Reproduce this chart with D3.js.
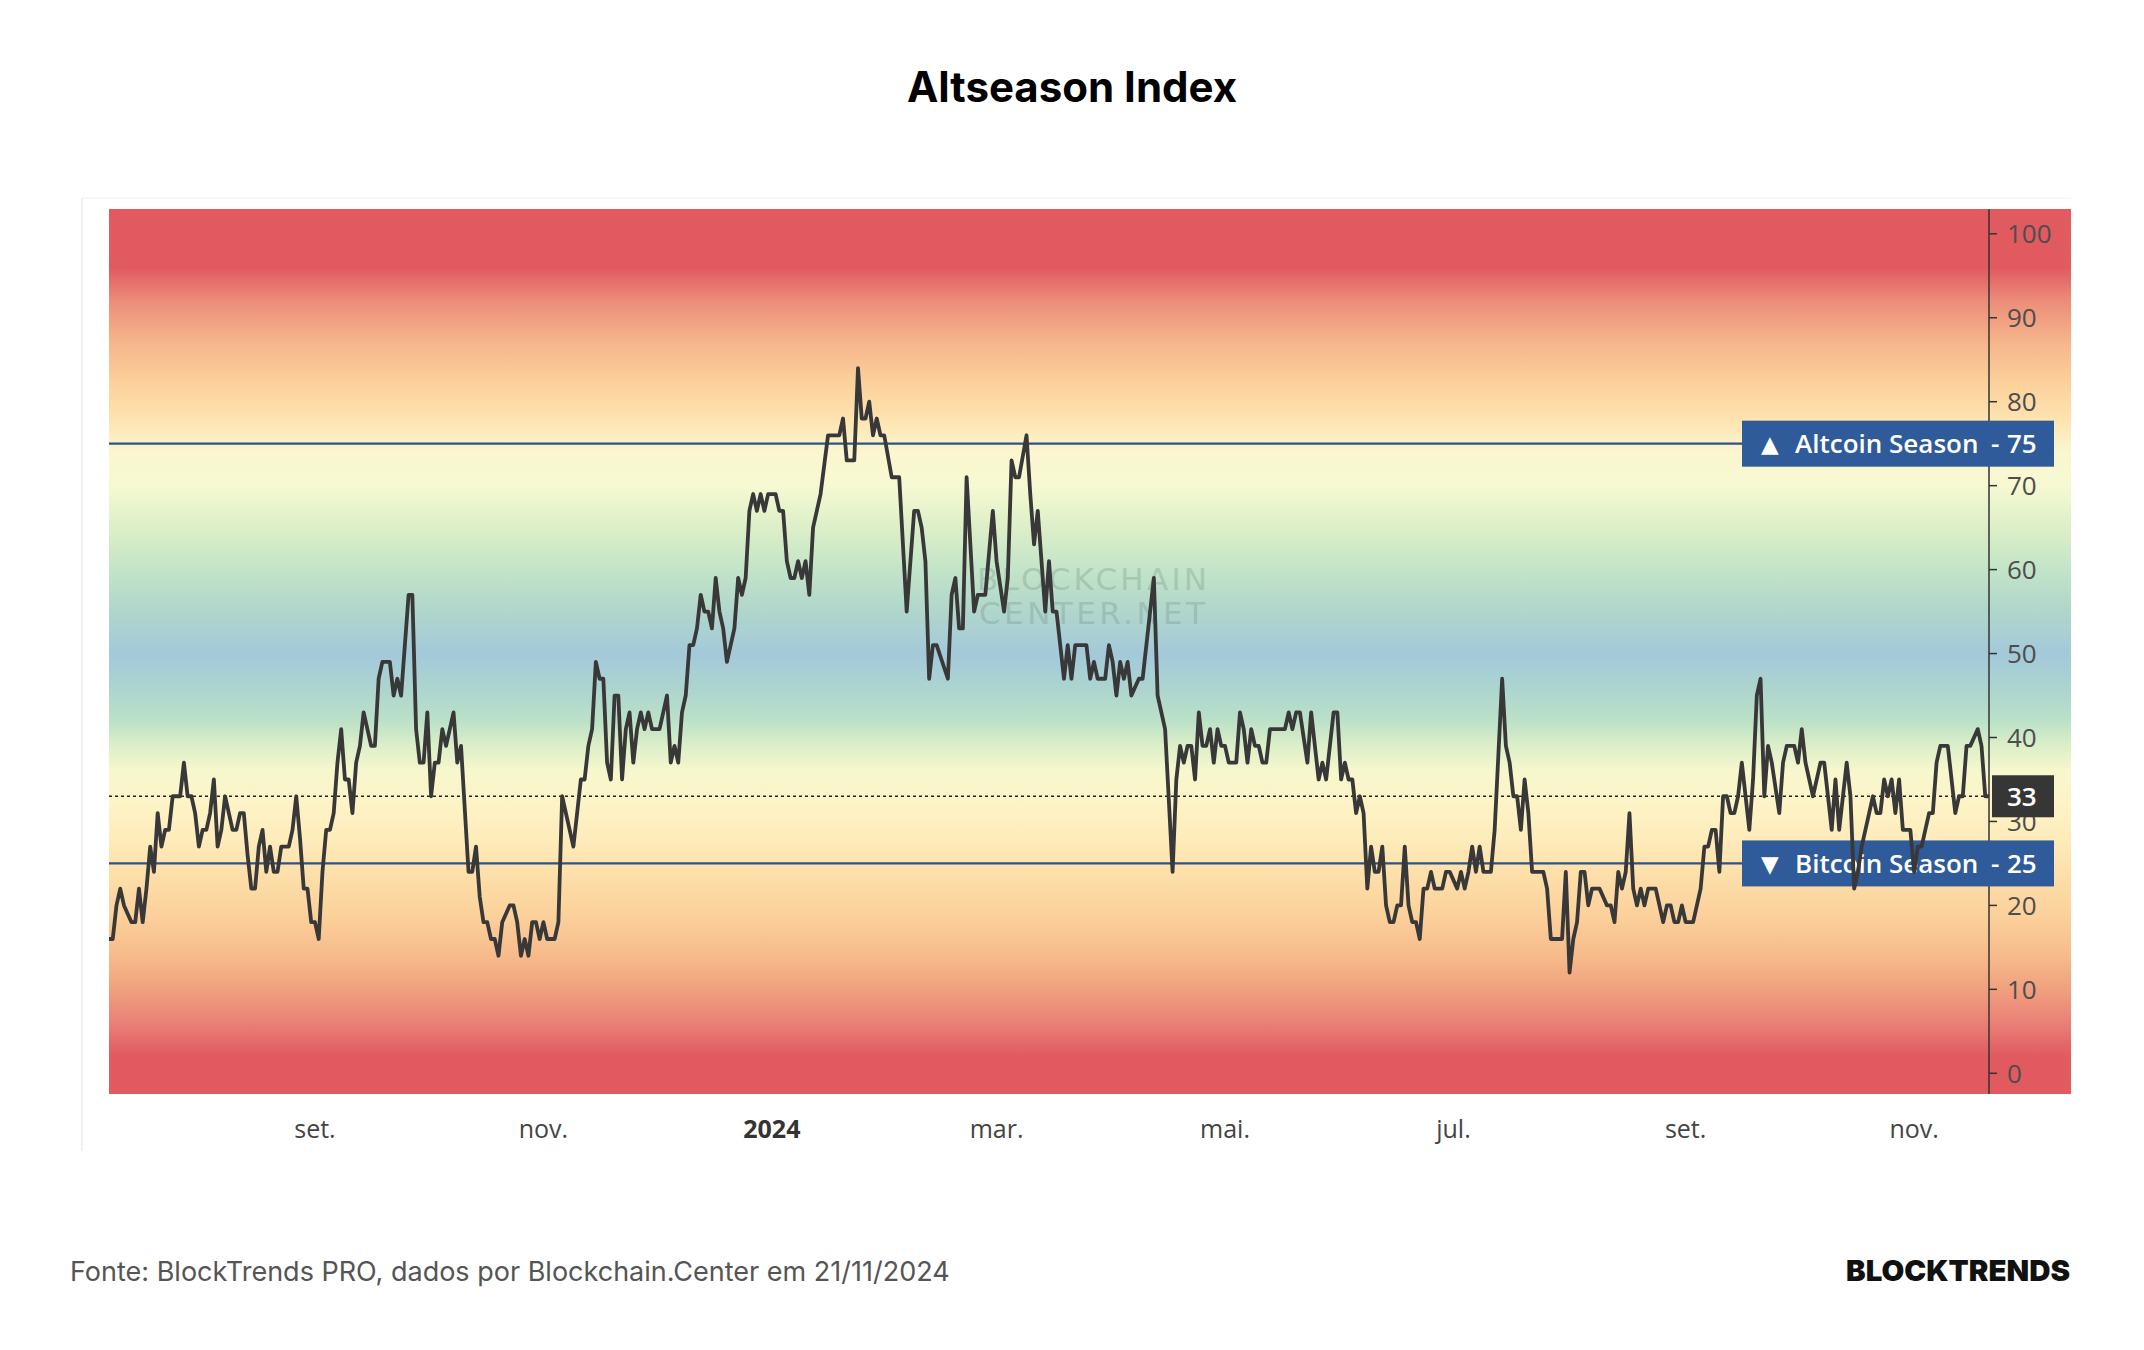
<!doctype html>
<html>
<head>
<meta charset="utf-8"/>
<title>Altseason Index</title>
<script src="https://d3js.org/d3.v7.min.js"></script>
<style>
  body { margin: 0; background: #fff; }
</style>
</head>
<body>
<div id="chart"></div>
<script>
// dados: dias desde o inicio da serie e valor do indice
var startDate = new Date(2023, 6, 8);
var totalDays = 502;

var days = [
  0,1,2,3,4,6,7,8,9,10,11,12,13,14,15,16,17,19,20,21,22,23,24,25,26,27,28,29,30,31,32,33,34,35,36,37,38,39,40,41,
  42,43,44,45,46,48,49,50,51,52,53,54,55,56,57,58,59,60,61,62,63,64,65,66,67,68,70,71,72,73,75,76,77,78,80,81,82,83,84,85,
  86,87,88,89,90,91,92,93,94,96,97,98,99,100,101,102,103,104,105,107,108,109,110,111,112,113,114,115,116,117,119,120,121,123,124,
  126,127,128,129,130,131,132,133,134,135,136,137,138,139,140,141,142,143,144,145,147,148,149,150,151,152,153,154,155,156,
  157,158,159,160,161,162,163,164,165,167,168,169,170,171,172,173,174,175,176,178,179,180,181,182,183,184,185,186,187,188,
  189,190,192,195,196,197,199,200,201,202,203,204,205,206,207,209,211,213,215,216,217,218,219,220,221,224,225,226,227,228,
  229,231,232,234,236,237,239,240,241,242,243,245,246,247,248,250,
  251,252,253,255,256,257,258,261,262,263,264,266,267,268,269,270,271,272,273,275,276,279,280,282,284,285,286,287,288,289,
  290,291,292,293,294,295,296,297,298,299,301,302,303,304,305,306,307,308,309,310,314,315,316,317,318,320,321,322,323,324,
  325,327,328,329,330,331,332,333,334,335,336,337,338,339,340,341,342,343,344,345,346,347,348,349,350,351,352,353,354,356,
  357,358,360,361,362,363,364,365,366,367,369,370,372,373,374,375,376,
  377,378,379,380,383,384,385,388,389,390,391,392,393,394,395,396,398,400,401,402,403,404,405,406,407,408,409,410,411,413,
  415,416,417,418,419,420,421,423,425,426,427,428,429,430,431,432,433,434,435,436,437,438,439,440,441,442,443,444,446,447,
  448,450,451,452,453,454,455,457,458,459,460,461,462,464,465,466,467,468,470,471,472,473,474,475,476,477,478,479,481,482,
  483,484,485,486,487,488,489,491,492,493,494,495,496,497,499,500,501,502
];

var values = [
  16,16,20,22,20,18,18,22,18,22,27,24,31,27,29,29,33,33,37,33,33,31,27,29,29,31,35,27,29,33,31,29,29,31,31,26,22,22,27,29,
  24,27,24,24,27,27,29,33,28,22,22,18,18,16,24,29,29,31,37,41,35,35,31,37,39,43,39,39,47,49,49,45,47,45,57,57,41,37,37,43,
  33,37,37,41,39,41,43,37,39,24,24,27,21,18,18,16,16,14,18,20,20,18,14,16,14,18,18,16,18,16,16,18,33,29,27,
  35,35,39,41,49,47,47,37,35,45,45,35,41,43,37,41,43,41,43,41,41,43,45,37,39,37,43,45,51,51,
  53,57,55,55,53,59,55,53,49,53,59,57,59,67,69,67,69,67,69,69,67,67,61,59,59,61,59,61,57,65,
  67,69,76,76,78,73,73,84,78,78,80,76,78,76,76,71,71,55,67,67,65,61,47,51,51,47,57,59,53,53,
  71,55,57,57,67,61,55,59,73,71,71,76,69,63,67,55,
  61,55,55,47,51,47,51,51,47,49,47,47,51,49,45,49,47,49,45,47,47,59,45,41,24,35,39,37,39,39,
  35,43,39,39,41,37,41,39,39,37,37,43,41,37,41,39,39,37,37,41,41,43,41,43,43,37,43,39,35,37,
  35,43,43,35,37,35,35,31,33,31,22,27,24,24,27,20,18,18,20,20,27,20,18,18,16,22,22,24,22,22,
  24,24,22,24,22,24,27,24,27,24,24,29,47,39,37,33,33,
  29,35,31,24,24,22,16,16,24,12,16,18,24,24,20,22,22,20,20,18,24,22,24,31,22,20,22,20,22,22,
  18,20,20,18,18,20,18,18,22,27,27,29,29,24,33,33,31,31,33,37,33,29,35,45,47,33,39,37,31,37,
  39,39,37,41,37,35,33,37,37,33,29,35,29,37,33,22,24,27,31,33,31,31,35,33,35,31,35,29,29,24,
  27,27,29,31,31,37,39,39,35,31,33,33,39,39,41,39,33,33
];

var yTicks = [0, 10, 20, 30, 40, 50, 60, 70, 80, 90, 100];
var mesesPt = ["jan.", "fev.", "mar.", "abr.", "mai.", "jun.", "jul.", "ago.", "set.", "out.", "nov.", "dez."];

var altLevel = 75, btcLevel = 25;
var altLabel = "Altcoin Season", btcLabel = "Bitcoin Season";
var currentValue = values[values.length - 1];

// faixas de cor do fundo (valor do indice -> cor)
var gradValues = [103, 96, 92, 87, 82, 78, 74, 70, 65, 60, 55, 50, 46, 42, 39, 36, 32, 28, 24, 19, 14, 10, 6, 2, -3];
var gradColors = ["#e05a60", "#e05a60", "#ec8d7a", "#f6b68b", "#fcd29c", "#fde3b0", "#fbf6cf", "#f6f9d2", "#dcefc8",
                  "#c3e4c8", "#b0d6cc", "#a3c9da", "#acd4cf", "#bbe1c8", "#dcefc8", "#f7f7cd", "#fdf3c6", "#feecbb",
                  "#fde0ab", "#fcd19b", "#f7bb8b", "#f0a07f", "#ea8077", "#e05a60", "#e05a60"];

var W = 2144, H = 1350;
var plotLeft = 109, plotRight = 2071, axisX = 1989, plotTop = 209, plotBottom = 1094;

var svg = d3.select("#chart")
    .append("svg")
    .attr("width", W)
    .attr("height", H);

svg.append("rect").attr("width", W).attr("height", H).attr("fill", "#fff");

var endDate = d3.timeDay.offset(startDate, totalDays);
var x = d3.scaleTime().domain([startDate, endDate]).range([plotLeft, axisX]);
var y = d3.scaleLinear().domain([0, 100]).range([1073.3, 233.8]);

var data = days.map(function(d, i) {
    return { date: d3.timeDay.offset(startDate, d), v: values[i] };
});

// moldura suave
svg.append("line")
    .attr("x1", 82).attr("x2", 82).attr("y1", 198).attr("y2", 1151)
    .attr("stroke", "#ededed").attr("stroke-width", 1.5);
svg.append("line")
    .attr("x1", 82).attr("x2", plotRight).attr("y1", 198).attr("y2", 198)
    .attr("stroke", "#f6f6f6").attr("stroke-width", 1.5);

// gradiente
var defs = svg.append("defs");
var grad = defs.append("linearGradient")
    .attr("id", "fundo")
    .attr("gradientUnits", "userSpaceOnUse")
    .attr("x1", 0).attr("x2", 0)
    .attr("y1", plotTop).attr("y2", plotBottom);

gradValues.forEach(function(v, i) {
    var off = (y(v) - plotTop) / (plotBottom - plotTop);
    off = Math.max(0, Math.min(1, off));
    grad.append("stop").attr("offset", off).attr("stop-color", gradColors[i]);
});

svg.append("rect")
    .attr("x", plotLeft).attr("y", plotTop)
    .attr("width", plotRight - plotLeft).attr("height", plotBottom - plotTop)
    .attr("fill", "url(#fundo)");

// marca d'agua
var wm = svg.append("g").attr("fill", "#5f7f72").attr("opacity", 0.25)
    .attr("font-family", "DejaVu Sans, sans-serif").attr("font-size", 31)
    .attr("text-anchor", "middle");
wm.append("text").attr("x", 1092).attr("y", 590).attr("textLength", 230).text("BLOCKCHAIN");
wm.append("text").attr("x", 1092).attr("y", 624).attr("textLength", 226).text("CENTER.NET");

// linhas de referencia
svg.append("line")
    .attr("x1", plotLeft).attr("x2", 1742)
    .attr("y1", y(altLevel)).attr("y2", y(altLevel))
    .attr("stroke", "#2d5287").attr("stroke-width", 2.2);
svg.append("line")
    .attr("x1", plotLeft).attr("x2", 1742)
    .attr("y1", y(btcLevel)).attr("y2", y(btcLevel))
    .attr("stroke", "#2d5287").attr("stroke-width", 2.2);
svg.append("line")
    .attr("x1", plotLeft).attr("x2", axisX)
    .attr("y1", y(currentValue)).attr("y2", y(currentValue))
    .attr("stroke", "#222").attr("stroke-width", 1.3)
    .attr("stroke-dasharray", "3,3");

// eixo y
svg.append("line")
    .attr("x1", axisX).attr("x2", axisX).attr("y1", plotTop).attr("y2", plotBottom)
    .attr("stroke", "#333").attr("stroke-width", 1.5);

var yAxis = svg.append("g");
yTicks.forEach(function(t) {
    yAxis.append("line")
        .attr("x1", axisX).attr("x2", axisX + 8)
        .attr("y1", y(t)).attr("y2", y(t))
        .attr("stroke", "#333").attr("stroke-width", 1.5);
    yAxis.append("text")
        .attr("x", 2007).attr("y", y(t)).attr("dy", "0.36em")
        .attr("font-family", "Open Sans, sans-serif").attr("font-size", 26)
        .attr("font-weight", 500)
        .attr("fill", "#4d4d4d")
        .text(t);
});

// eixo x
var xTicks = x.ticks(d3.timeMonth.every(2));
xTicks.forEach(function(t) {
    var isYear = t.getMonth() === 0;
    svg.append("text")
        .attr("x", x(t)).attr("y", 1138)
        .attr("text-anchor", "middle")
        .attr("font-family", "Open Sans, sans-serif").attr("font-size", 25)
        .attr("font-weight", isYear ? 700 : 400)
        .attr("fill", isYear ? "#333" : "#444")
        .text(isYear ? t.getFullYear() : mesesPt[t.getMonth()]);
});

// caixas de rotulo
function caixa(level, arrow, label) {
    var g = svg.append("g");
    g.append("rect")
        .attr("x", 1742).attr("y", y(level) - 23)
        .attr("width", 312).attr("height", 46)
        .attr("fill", "#2f5b9b");
    var tg = g.append("g")
        .attr("font-family", "Open Sans, sans-serif").attr("font-size", 26)
        .attr("font-weight", 600).attr("fill", "#fff");
    tg.append("text").attr("x", 1761).attr("y", y(level)).attr("dy", "0.36em")
        .attr("font-family", "DejaVu Sans, sans-serif").attr("font-size", 23).text(arrow);
    tg.append("text").attr("x", 1795).attr("y", y(level)).attr("dy", "0.36em").text(label);
    tg.append("text").attr("x", 1991).attr("y", y(level)).attr("dy", "0.36em").text("-");
    tg.append("text").attr("x", 2007).attr("y", y(level)).attr("dy", "0.36em").text(level);
}
caixa(altLevel, "\u25B2", altLabel);
caixa(btcLevel, "\u25BC", btcLabel);

svg.append("rect")
    .attr("x", 1992).attr("y", y(currentValue) - 21)
    .attr("width", 62).attr("height", 42)
    .attr("fill", "#363636");
svg.append("text")
    .attr("x", 2007).attr("y", y(currentValue)).attr("dy", "0.36em")
    .attr("font-family", "Open Sans, sans-serif").attr("font-size", 26)
    .attr("font-weight", 600).attr("fill", "#fff")
    .text(currentValue);

// linha do indice
var linha = d3.line()
    .x(function(d) { return x(d.date); })
    .y(function(d) { return y(d.v); });

svg.append("path")
    .datum(data)
    .attr("d", linha)
    .attr("fill", "none")
    .attr("stroke", "#383838")
    .attr("stroke-width", 3.8)
    .attr("stroke-linejoin", "round");

// titulo e rodape
svg.append("text")
    .attr("x", 1072).attr("y", 102)
    .attr("text-anchor", "middle")
    .attr("font-family", "Inter, sans-serif").attr("font-size", 42)
    .attr("font-weight", 700).attr("fill", "#000")
    .text("Altseason Index");

svg.append("text")
    .attr("x", 70).attr("y", 1281)
    .attr("font-family", "Inter, sans-serif").attr("font-size", 27)
    .attr("fill", "#555")
    .text("Fonte: BlockTrends PRO, dados por Blockchain.Center em 21/11/2024");

svg.append("text")
    .attr("x", 2070).attr("y", 1281)
    .attr("text-anchor", "end")
    .attr("font-family", "Inter, sans-serif").attr("font-size", 29)
    .attr("font-weight", 900).attr("fill", "#111")
    .attr("textLength", 224).attr("lengthAdjust", "spacingAndGlyphs")
    .text("BLOCKTRENDS");
</script>
</body>
</html>
